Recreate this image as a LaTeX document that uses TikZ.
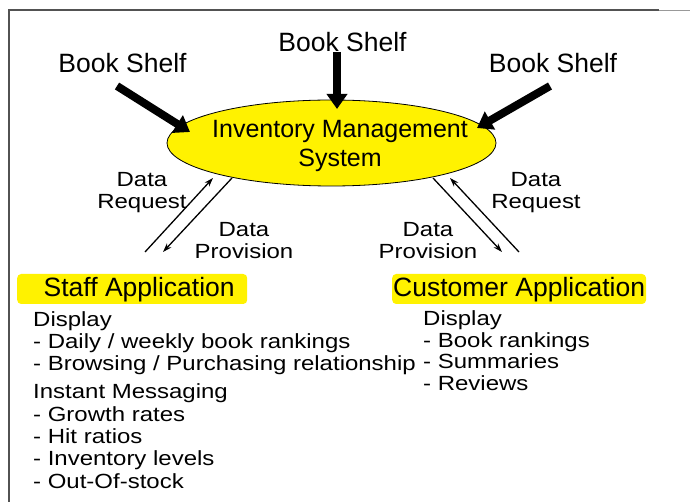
\documentclass[tikz,border=0pt]{standalone}
\usepackage{fontspec}
\setmainfont{Liberation Sans}
\newfontfamily\widesans[FakeStretch=1.17]{Liberation Sans}
\usetikzlibrary{arrows.meta,shapes.geometric}
\tikzset{shelf/.style={anchor=base,inner sep=0,font=\fontsize{26.5}{30}\selectfont}}
\tikzset{fat arrow/.style={line width=8pt,-{Triangle[length=15pt,width=20pt]}}}
\tikzset{thin arrow/.style={line width=1.3pt,-{Stealth[length=9pt,width=6pt]}}}
\tikzset{flowlabel/.style={align=center,anchor=north,inner sep=0,font=\widesans\fontsize{20.5}{22}\selectfont}}
\tikzset{appbox/.style={fill=yellow,rounded corners=4pt,anchor=base west,inner xsep=1pt,inner ysep=2pt,text height=21pt,text depth=5pt,font=\fontsize{26.5}{30}\selectfont}}
\tikzset{featurelist/.style={align=left,anchor=north west,inner sep=0,font=\widesans\fontsize{20.5}{22.3}\selectfont}}

\begin{document}
\begin{tikzpicture}[x=1pt,y=-1pt]
    \useasboundingbox (0,0) rectangle (690,502);
    % frame
    \draw[line width=2pt,black!68] (9,502) -- (9,10.5) -- (659,10.5);
    \draw[line width=1.5pt,black!40] (659,10.5) -- (690,10.5);

    % the inventory system in the middle
    \node[ellipse,draw,fill=yellow,line width=0.8pt,minimum width=329pt,minimum height=86pt,inner sep=0] (ims) at (331.5,143) {};
    \node[align=center,anchor=north,inner sep=0,font=\fontsize{25}{29}\selectfont] (imsText) at (340,120) {Inventory Management\\System};

    % book shelves feeding the system
    \foreach \nm/\x/\y in {shelfL/122.5/73,shelfT/342.5/52,shelfR/553/73}
        \node[shelf] (\nm) at (\x,\y) {Book Shelf};
    \coordinate (tipL) at (190,132);
    \coordinate (tipT) at (337,109);
    \coordinate (tipR) at (477,128);
    \draw[fat arrow] ([shift={(-5.5,13)}]shelfL.base) -- (tipL);
    \draw[fat arrow] (shelfT.base -| tipT) -- (tipT);
    \draw[fat arrow] ([shift={(-3,13)}]shelfR.base) -- (tipR);

    % data flows
    \coordinate (reqLa) at (145,252); \coordinate (reqLb) at (213,178);
    \coordinate (proLa) at (232,178); \coordinate (proLb) at (163,252);
    \coordinate (proRa) at (433,178); \coordinate (proRb) at (502,252);
    \coordinate (reqRa) at (519,252); \coordinate (reqRb) at (450,178);
    \draw[thin arrow] (reqLa) -- (reqLb);
    \draw[thin arrow] (proLa) -- (proLb);
    \draw[thin arrow] (proRa) -- (proRb);
    \draw[thin arrow] (reqRa) -- (reqRb);
    \node[flowlabel] (reqL) at (142,172) {Data\\Request};
    \node[flowlabel] (proL) at (244,222) {Data\\Provision};
    \node[flowlabel] (proR) at (428,222) {Data\\Provision};
    \node[flowlabel] (reqR) at (536,172) {Data\\Request};

    % applications
    \node[appbox,minimum width=230pt] (staffApp) at (17,297) {\hspace*{14pt}Staff Application};
    \node[appbox] (custApp) at (392,297) {Customer Application};
    \node[featurelist] (staffList) at (33,311.3) {Display\\- Daily / weekly book rankings\\- Browsing / Purchasing relationship\\[5.7pt]Instant Messaging\\- Growth rates\\- Hit ratios\\- Inventory levels\\- Out-Of-stock};
    \node[featurelist,font=\widesans\fontsize{20.5}{21.7}\selectfont] (custList) at (423,310.3) {Display\\- Book rankings\\- Summaries\\- Reviews};
\end{tikzpicture}
\end{document}
